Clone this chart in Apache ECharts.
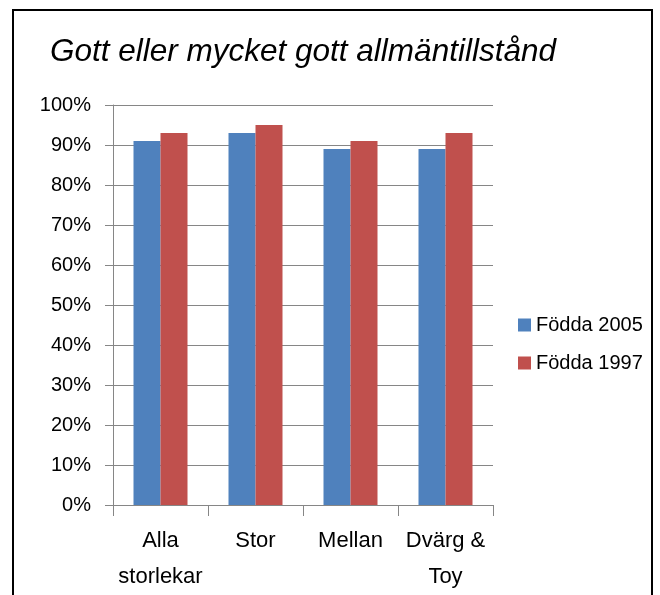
<!DOCTYPE html>
<html>
<head>
<meta charset="utf-8">
<script src="https://cdn.jsdelivr.net/npm/echarts@6/dist/echarts.min.js"></script>
<style>
  html, body { margin: 0; padding: 0; background: #fff; }
  #chart { width: 660px; height: 595px; }
</style>
</head>
<body>
<div id="chart"></div>
<script>
  // values, in percent
  let categories = ['Alla\nstorlekar', 'Stor', 'Mellan', 'Dvärg &\nToy'];
  let born2005 = [91, 93, 89, 89];
  let born1997 = [93, 95, 91, 93];
  let seriesNames = ['Födda 2005', 'Födda 1997'];

  let chart = echarts.init(document.getElementById('chart'));

  let option = {
    animation: false,
    title: {
      text: 'Gott eller mycket gott allmäntillstånd',
      left: 45,
      top: 31,
      textStyle: {
        fontFamily: 'Liberation Sans',
        fontStyle: 'italic',
        fontWeight: 'normal',
        fontSize: 31.5,
        color: '#000'
      }
    },
    graphic: [
      {
        type: 'rect',
        shape: { x: 13, y: 10, width: 639, height: 620 },
        style: { fill: 'none', stroke: '#000', lineWidth: 2 }
      }
    ],
    legend: {
      orient: 'vertical',
      left: 513,
      top: 310,
      itemWidth: 13,
      itemHeight: 13,
      itemGap: 18,
      icon: 'rect',
      data: seriesNames,
      textStyle: {
        fontFamily: 'Liberation Sans',
        fontSize: 20,
        color: '#000'
      }
    },
    grid: {
      left: 113,
      top: 105,
      right: 167,
      bottom: 90
    },
    xAxis: {
      type: 'category',
      data: categories,
      axisLine: { lineStyle: { color: '#868686', width: 1 } },
      axisTick: { show: true, interval: 0, length: 11, lineStyle: { color: '#868686' } },
      axisLabel: {
        interval: 0,
        margin: 18,
        fontFamily: 'Liberation Sans',
        fontSize: 22,
        lineHeight: 36,
        color: '#000'
      }
    },
    yAxis: {
      type: 'value',
      min: 0,
      max: 100,
      interval: 10,
      axisLine: { show: true, lineStyle: { color: '#868686', width: 1 } },
      axisTick: { show: true, length: 8, lineStyle: { color: '#868686' } },
      splitLine: { lineStyle: { color: '#868686', width: 1 } },
      axisLabel: {
        formatter: '{value}%',
        margin: 22,
        fontFamily: 'Liberation Sans',
        fontSize: 20,
        color: '#000'
      }
    },
    series: [
      {
        name: seriesNames[0],
        type: 'bar',
        data: born2005,
        barWidth: 27,
        barGap: '0%',
        itemStyle: { color: '#4F81BD' }
      },
      {
        name: seriesNames[1],
        type: 'bar',
        data: born1997,
        barWidth: 27,
        barGap: '0%',
        itemStyle: { color: '#C0504D' }
      }
    ]
  };

  chart.setOption(option);
</script>
</body>
</html>
